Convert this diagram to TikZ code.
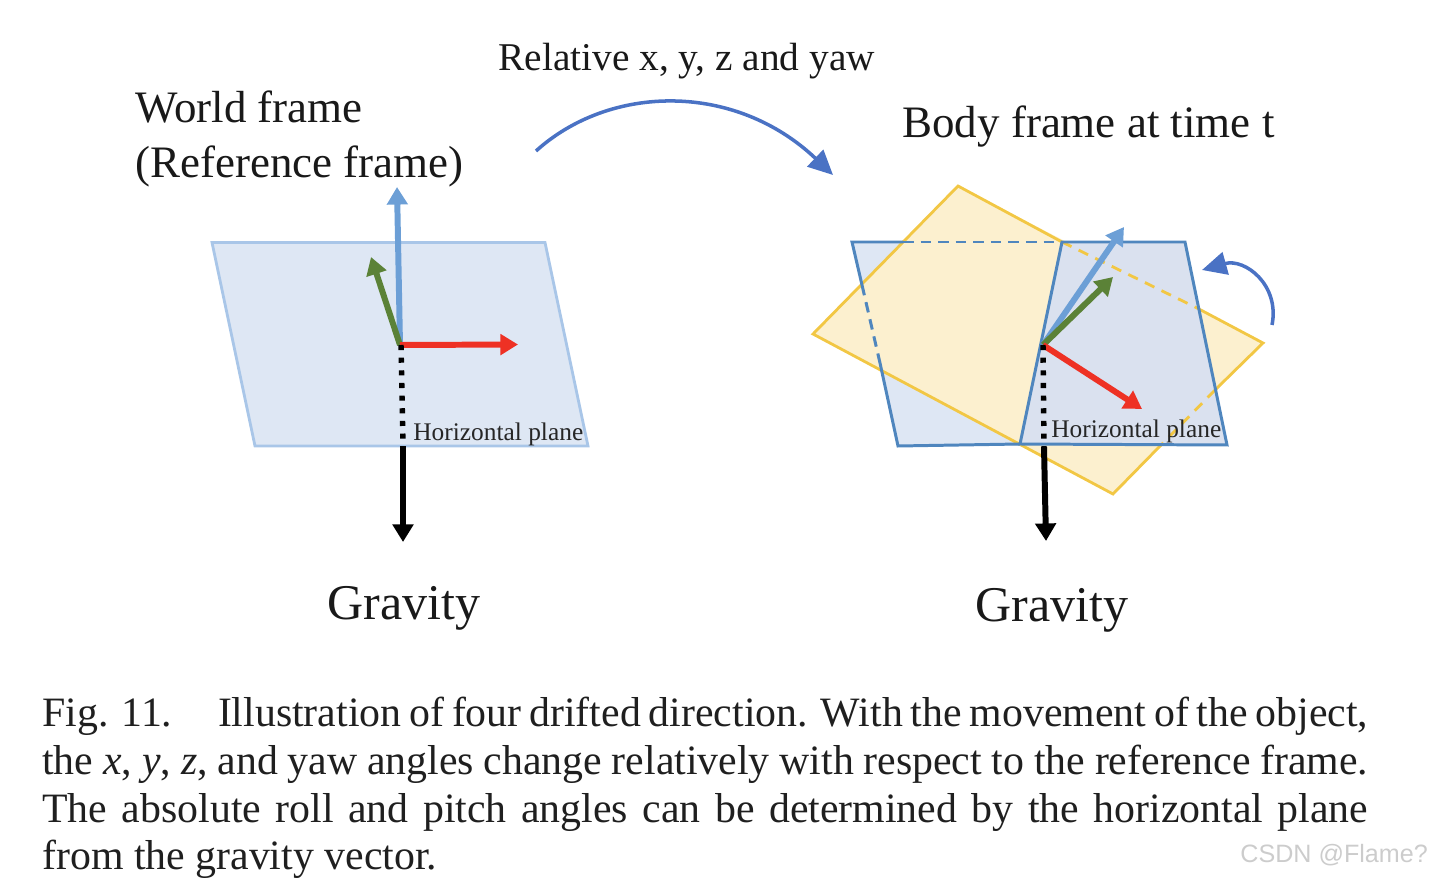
\documentclass[tikz,border=0pt]{standalone}
\usepackage{fontspec}
\setmainfont{Liberation Serif}
\newfontfamily\wmfont{Liberation Sans}
\usetikzlibrary{arrows.meta, positioning}
\definecolor{planefill}{HTML}{DEE7F4}
\definecolor{planeedge}{HTML}{A9C6E8}
\definecolor{planedark}{HTML}{4F86BE}
\definecolor{overlapfill}{HTML}{DAE1EF}
\definecolor{yellowfill}{HTML}{FCF0CF}
\definecolor{yellowedge}{HTML}{F2C744}
\definecolor{axisblue}{HTML}{6C9FD6}
\definecolor{axisgreen}{HTML}{5B8237}
\definecolor{axisred}{HTML}{EE3124}
\definecolor{curveblue}{HTML}{4A72C4}
\tikzset{
  axis/.style={line width=3.4pt, -{Triangle[width=11.5pt, length=10pt]}},
  gravdots/.style={line width=3.1pt, black, dash pattern=on 2.9pt off 4.3pt},
  curved/.style={line width=2pt, curveblue, -{Triangle[width=13pt, length=14pt]}},
  edgeblue/.style={line width=1.7pt, planedark},
  edgeyellow/.style={line width=1.6pt, yellowedge},
  plabel/.style={font=\fontsize{14.45}{17}\selectfont, text=black!85, inner sep=0pt, anchor=base west},
  title/.style={font=\fontsize{#1}{#1}\selectfont, text=black!90, inner sep=0pt, anchor=base west},
}
\begin{document}
\begin{tikzpicture}[x=0.02cm, y=-0.02cm]
  \useasboundingbox (0,0) rectangle (1430,878);
  % left plane
  \draw[fill=planefill, draw=planeedge, line width=1.6pt] (212,242.5) -- (545,242.5) -- (588,446) -- (255,446) -- cycle;
  \coordinate (o1) at (400,345);
  \coordinate (b1) at (403,446);
  \coordinate (g1) at (403,542);
  \draw[axis, axisblue] (o1) -- (397,187);
  \draw[axis, axisgreen] (o1) -- (371,257);
  \draw[axis, axisred] (o1) -- (518,344.5);
  \draw[gravdots] (401,345) -- (b1);
  \draw[axis, black] (b1) -- (g1);
  \node[plabel] (hp1) at (413,440) {Horizontal plane};
  % right plane, tilted plane on top of it
  \fill[planefill] (852,242) -- (1185,242) -- (1227,445) -- (898,446) -- cycle;
  \fill[yellowfill] (958,186) -- (1263,343) -- (1113,494) -- (813,334) -- cycle;
  \fill[overlapfill] (1062,242) -- (1185,242) -- (1227,445) -- (1020,444) -- cycle;
  % yellow outline, dashed behind the plane
  \draw[edgeyellow] (1197,308) -- (1263,343) -- (1215,390);
  \draw[edgeyellow] (1163,443) -- (1113,494) -- (813,334) -- (958,186) -- (1062,242);
  \draw[edgeyellow, dashed, dash pattern=on 6pt off 4.5pt] (1062,242) -- (1197,308);
  \draw[edgeyellow, dashed, dash pattern=on 6pt off 4.5pt] (1215,390) -- (1163,443);
  % blue outline
  \draw[edgeblue] (903,242) -- (852,242) -- (862,285);
  \draw[edgeblue] (880,363) -- (898,446) -- (1020,444);
  \draw[edgeblue, dashed, dash pattern=on 6pt off 4pt] (903,242) -- (1062,242);
  \draw[edgeblue, dashed, dash pattern=on 6pt off 4pt] (862,285) -- (880,363);
  \draw[edgeblue] (1062,242) -- (1185,242) -- (1227,445) -- (1020,444) -- cycle;
  \coordinate (o2) at (1043,345);
  \coordinate (b2) at (1044,447);
  \coordinate (g2) at (1046,541);
  \draw[axis, axisblue] (o2) -- (1124,227);
  \draw[axis, axisgreen] (o2) -- (1113,277);
  \draw[axis, axisred] (o2) -- (1142,409);
  \draw[gravdots] (1043,345) -- (b2);
  \draw[axis, black] (b2) -- (g2);
  \node[plabel] (hp2) at (1051,438) {Horizontal plane};
  % rotation arrows
  \coordinate (c1) at (536,151);
  \coordinate (c2) at (833,175);
  \coordinate (c3) at (1272,325);
  \coordinate (c4) at (1202,270);
  \draw[curved] (c1) .. controls (610,84) and (735,82) .. (c2);
  \draw[curved] (c3) .. controls (1280,285) and (1245,258) .. (c4);
  % titles
  \node[title=22.4] (rel) at (498,71) {Relative x, y, z and yaw};
  \node[title=25.6] (world) at (135,123) {World frame};
  \node[title=25.6] (ref) at (135,178) {(Reference frame)};
  \node[title=25.6] (body) at (902,138) {Body frame at time t};
  \node[title=28.45] (grav1) at (327,619) {Gravity};
  \node[title=28.45] (grav2) at (975,621) {Gravity};
  % caption
  \node[anchor=north west, inner sep=0pt, text width=754.6pt, align=justify, text=black!88,
    font=\fontsize{23.8}{27.1}\selectfont] (caption) at (42,697)
    {Fig. 11.\hspace{26pt}Illustration of four drifted direction. With the movement of the object,\linebreak the \textit{x}, \textit{y}, \textit{z}, and yaw angles change relatively with respect to the reference frame.\linebreak The absolute roll and pitch angles can be determined by the horizontal plane\linebreak from the gravity vector.};
  % watermark
  \node[anchor=base west, inner sep=0pt, text=black!20, font=\wmfont\fontsize{14.3}{17}\selectfont] (mark) at (1240,862) {CSDN @Flame?};
\end{tikzpicture}
\end{document}
